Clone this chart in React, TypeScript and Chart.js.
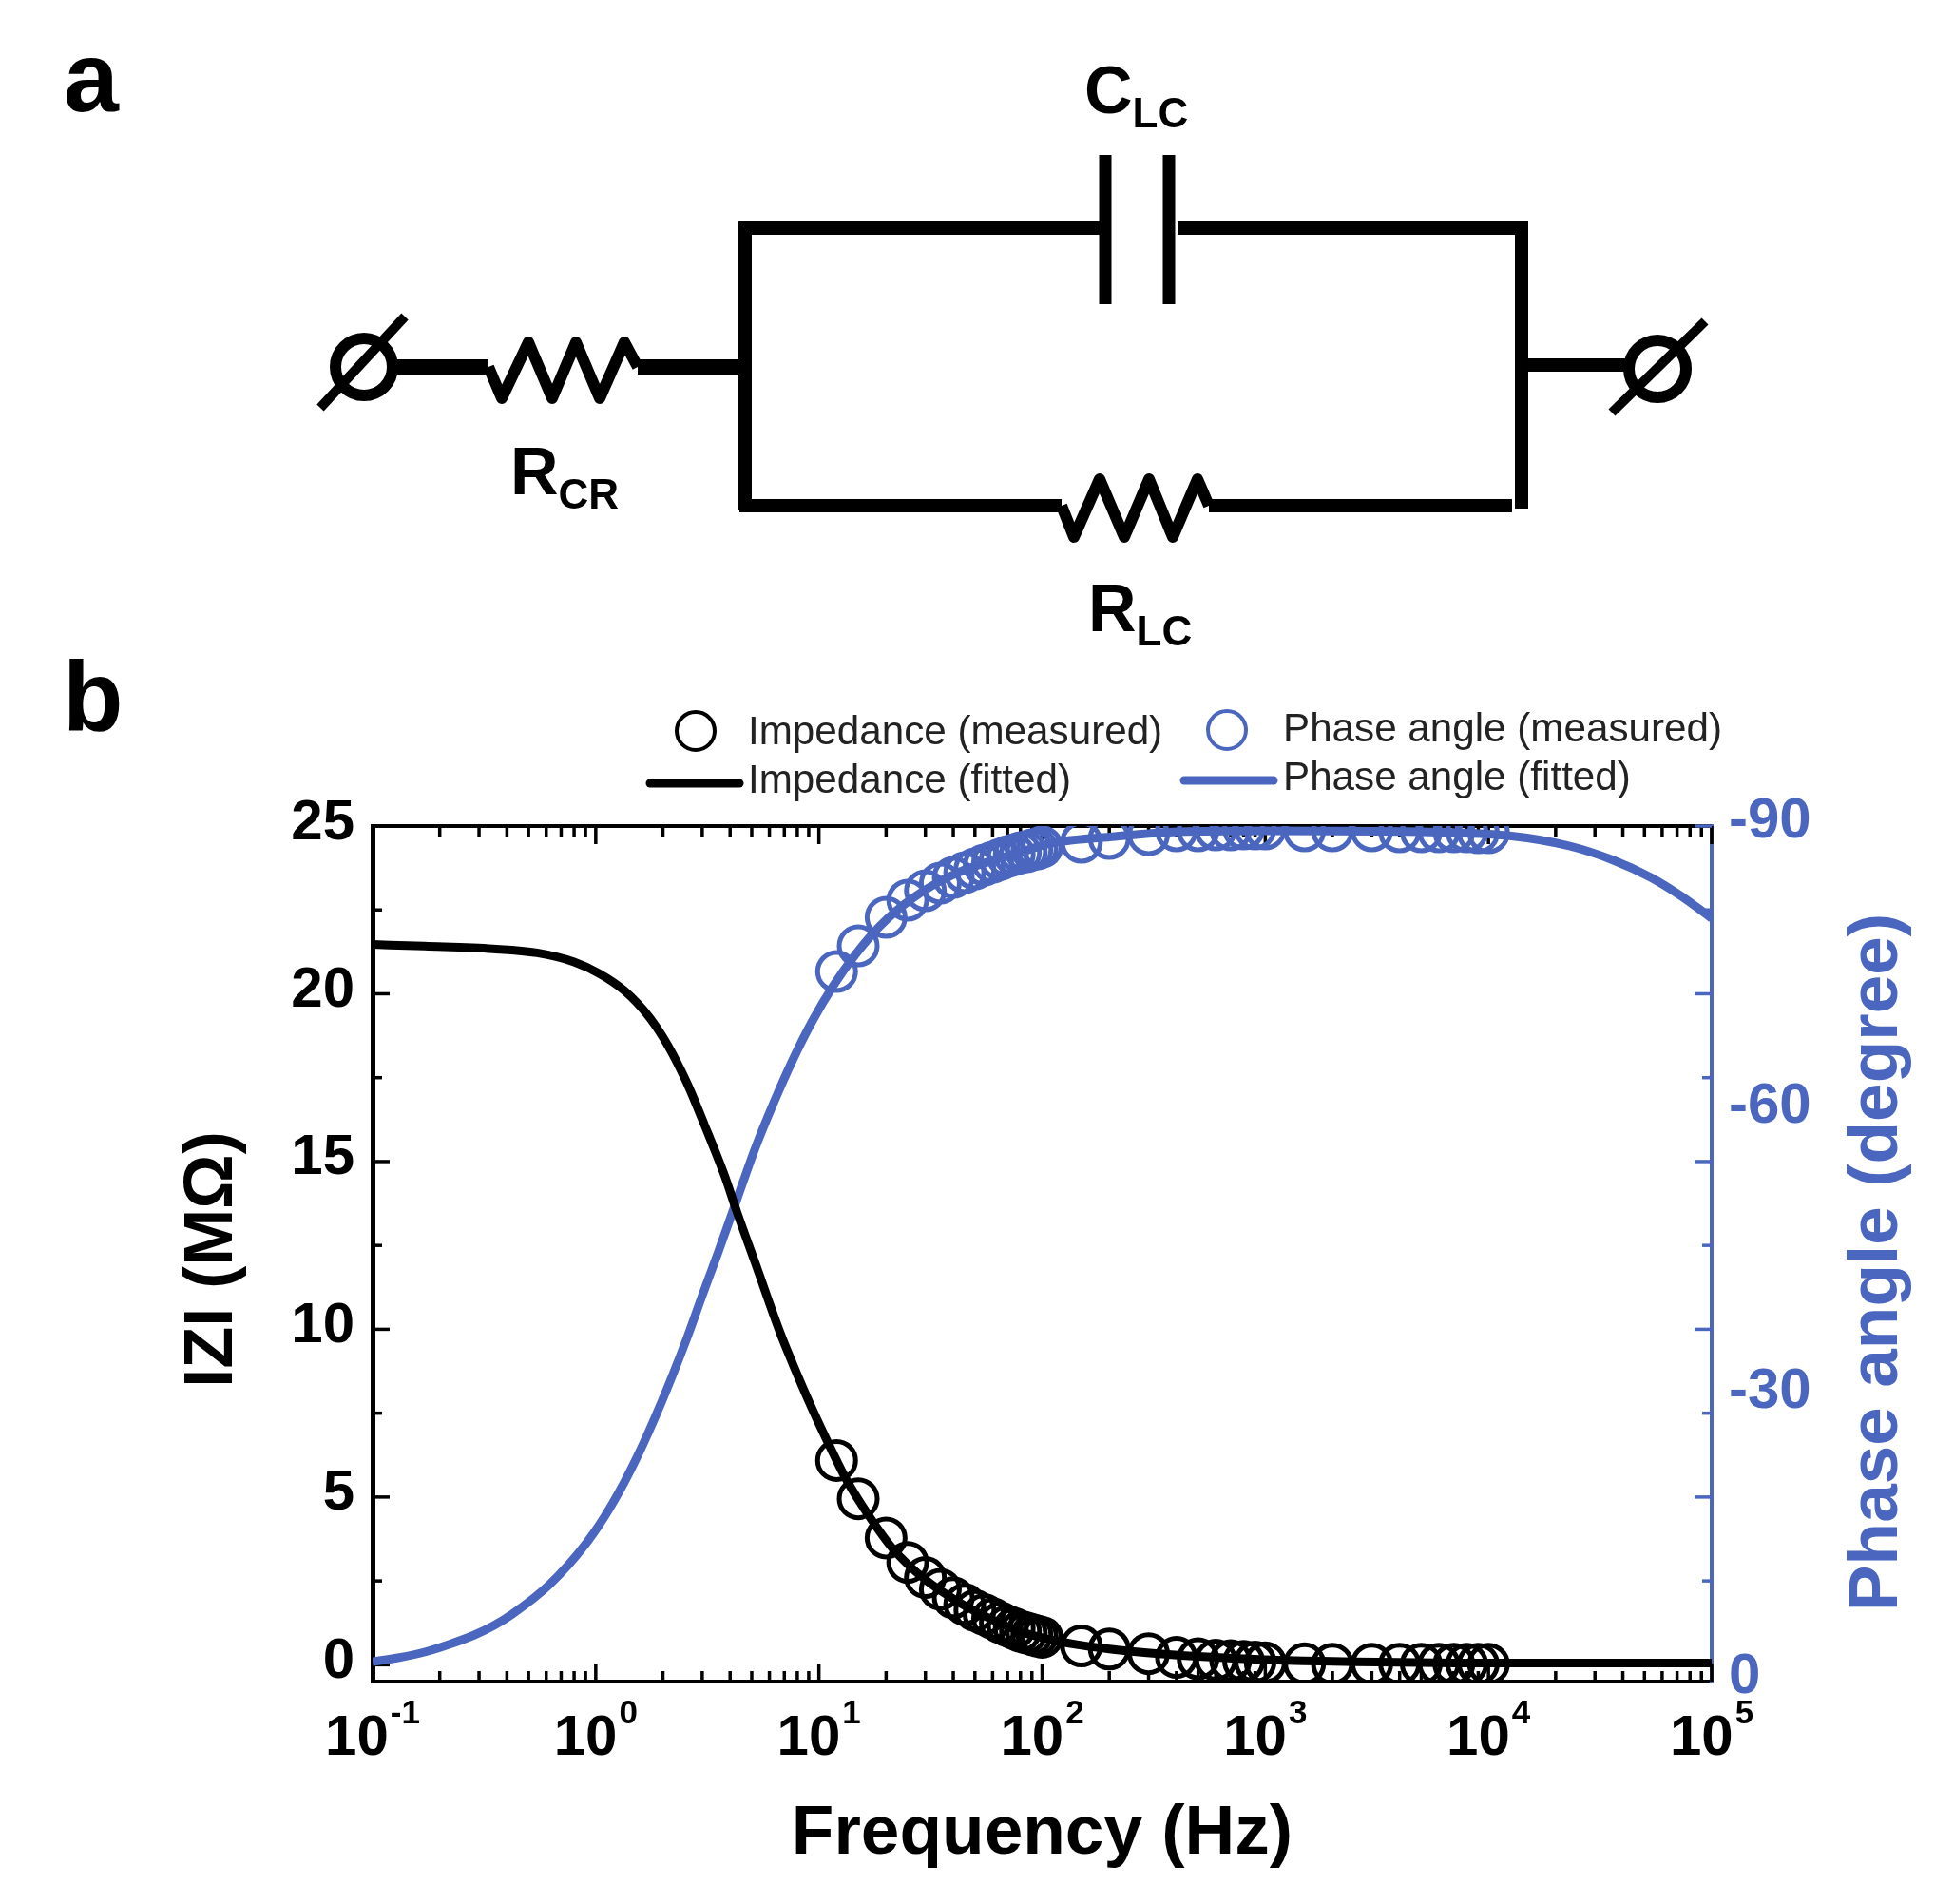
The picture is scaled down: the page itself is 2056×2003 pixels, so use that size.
import { useEffect, useRef } from "react";
import { Chart, registerables, Plugin } from "chart.js";

Chart.register(...registerables);

const BLACK = "#000000";
const BLUE = "#4A66BE";
const FONT = '"Liberation Sans", Arial, sans-serif';

// measured frequencies (Hz)
const measuredFreq = [
  12, 15, 20, 25, 30, 35, 40, 45, 50, 55, 60, 65, 70, 75, 80, 85, 90, 95, 100, 150, 200, 300, 400, 500, 600,
  700, 800, 900, 1000, 1500, 2000, 3000, 4000, 5000, 6000, 7000, 8000, 9000, 10000,
];
const measuredImpedance = [
  6.09, 4.95, 3.78, 3.05, 2.6, 2.25, 2.0, 1.8, 1.62, 1.5, 1.38, 1.26, 1.16, 1.08, 1.0, 0.95, 0.9, 0.86, 0.82,
  0.56, 0.47, 0.33, 0.22, 0.18, 0.14, 0.12, 0.1, 0.08, 0.06, 0.03, 0.02, 0.02, 0.02, 0.02, 0.02, 0.02, 0.02,
  0.02, 0.02,
];
const measuredPhase = [
  -74.7, -77.4, -80.4, -82.2, -83.2, -84, -84.6, -85.1, -85.5, -85.9, -86.2, -86.5, -86.8, -87, -87.2, -87.3,
  -87.5, -87.6, -87.8, -88.3, -88.7, -89.1, -89.5, -89.5, -89.6, -89.6, -89.7, -89.7, -89.7, -89.5, -89.5,
  -89.5, -89.4, -89.4, -89.4, -89.4, -89.4, -89.3, -89.3,
];

const impedanceFitFreq = [
  0.1, 0.171, 0.347, 0.546, 0.8, 1.04, 1.34, 1.74, 2.11, 2.56, 3.09, 3.77, 4.29, 5.2, 6.7, 7.6, 9.3, 11.3, 13.2,
  17.1, 21.5, 29.8, 41.5, 57.5, 79, 101, 143, 200, 295, 500, 1000, 2000, 10000, 100000,
];
const impedanceFit = [
  21.47, 21.42, 21.34, 21.22, 20.95, 20.6, 20.1, 19.3, 18.45, 17.35, 16.05, 14.6, 13.5, 11.95, 9.9, 9.0, 7.65, 6.45,
  5.55, 4.35, 3.45, 2.55, 1.9, 1.4, 1.0, 0.8, 0.6, 0.47, 0.36, 0.25, 0.15, 0.1, 0.05, 0.05,
];

const phaseFitFreq = [
  0.1, 0.13, 0.171, 0.22, 0.286, 0.35, 0.423, 0.62, 0.91, 1.18, 1.53, 1.98, 2.56, 3.0, 3.53, 4.29, 5.2, 6.3, 7.6, 9.3,
  11.6, 14.6, 18.8, 25.9, 41, 79, 110, 212, 407, 1000, 5000, 12160, 23100, 36300, 53300, 73400, 100000,
];
const phaseFit = [
  -2.1, -2.5, -3.1, -3.9, -4.9, -5.9, -7.1, -10.2, -14.6, -18.6, -23.6, -29.5, -36.1, -40.6, -45.1, -50.7, -56.2, -61,
  -65.3, -69.4, -73.2, -76.5, -79.5, -82.3, -85, -87.2, -88.2, -88.9, -89.4, -89.5, -89.4, -89.0, -87.9, -86.4, -84.6,
  -82.6, -80.3,
];

const xDecades = [-1, 0, 1, 2, 3, 4, 5];
const xMinorFactors = [2, 3, 4, 5, 6, 7, 8, 9];
const yMajor = [0, 5, 10, 15, 20, 25];
const yMinor = [2.5, 7.5, 12.5, 17.5, 22.5];
const phaseTicks = [-90, -60, -30, 0];

const pairs = (xs: number[], ys: number[]) => xs.map((x, i) => ({ x, y: ys[i] }));

// tick marks on all four sides and the top frame line, under the data
const frameTicks: Plugin<"scatter"> = {
  id: "frameTicks",
  beforeDatasetsDraw(chart) {
    const { ctx, chartArea: a, scales } = chart;
    const x = scales.x;
    const y = scales.y;
    ctx.save();
    ctx.strokeStyle = BLACK;
    ctx.lineWidth = 4;
    ctx.beginPath();
    ctx.moveTo(a.left, a.top);
    ctx.lineTo(a.right, a.top);
    ctx.stroke();

    const xMark = (v: number, len: number) => {
      const px = x.getPixelForValue(v);
      ctx.beginPath();
      ctx.moveTo(px, a.bottom);
      ctx.lineTo(px, a.bottom - len);
      ctx.moveTo(px, a.top);
      ctx.lineTo(px, a.top + len);
      ctx.stroke();
    };
    ctx.lineWidth = 3.5;
    xDecades.forEach((d) => {
      xMark(10 ** d, 19);
      if (d < 5) xMinorFactors.forEach((m) => xMark(m * 10 ** d, 11));
    });

    const yMark = (v: number, len: number) => {
      const py = y.getPixelForValue(v);
      ctx.strokeStyle = BLACK;
      ctx.beginPath();
      ctx.moveTo(a.left, py);
      ctx.lineTo(a.left + len, py);
      ctx.stroke();
      ctx.strokeStyle = BLUE;
      ctx.beginPath();
      ctx.moveTo(a.right, py);
      ctx.lineTo(a.right - len, py);
      ctx.stroke();
    };
    yMajor.forEach((v) => yMark(v, 18));
    yMinor.forEach((v) => yMark(v, 10));
    ctx.restore();
  },
  // 10 with a raised exponent, the pair centred on its tick
  afterDraw(chart) {
    const { ctx, scales } = chart;
    ctx.save();
    ctx.fillStyle = BLACK;
    ctx.textAlign = "left";
    ctx.textBaseline = "alphabetic";
    xDecades.forEach((d) => {
      const px = scales.x.getPixelForValue(10 ** d);
      const exp = String(d);
      ctx.font = `bold 60px ${FONT}`;
      const w10 = ctx.measureText("10").width;
      ctx.font = `bold 35px ${FONT}`;
      const wExp = ctx.measureText(exp).width;
      const left = px - (w10 + 2 + wExp) / 2;
      ctx.font = `bold 60px ${FONT}`;
      ctx.fillText("10", left, 1846);
      ctx.font = `bold 35px ${FONT}`;
      ctx.fillText(exp, left + w10 + 2, 1813);
    });
    ctx.restore();
  },
};

function Overlay() {
  const wire = { stroke: BLACK, fill: "none" };
  const sub = { fontSize: 44, dy: 15 };
  return (
    <svg
      width={2056}
      height={2003}
      style={{ position: "absolute", left: 0, top: 0, pointerEvents: "none" }}
      fontFamily={FONT}
    >
      <text x={67} y={117} fontSize={104} fontWeight="bold">a</text>
      <text x={66} y={768} fontSize={104} fontWeight="bold">b</text>

      {/* circuit */}
      <g {...wire} strokeWidth={14}>
        <path d="M784 240H1157M1239 240H1607" />
        <path d="M1163 163V320M1230 163V320" strokeWidth={13} />
        <path d="M784 233V537M1601 233V535" />
        <path d="M778 532H1117M1272 532H1591" />
        <path d="M417 386H514M671 386H784" strokeWidth={16} />
        <path d="M1606 384H1711" />
      </g>
      <g {...wire} strokeWidth={12} strokeLinejoin="round">
        <polyline points="1117,532 1130,565 1157,504 1183,565 1209,504 1234,565 1260,504 1272,532" />
        <polyline points="514,386 528,419 556,360 581,419 606,360 631,419 657,360 671,386" />
      </g>
      <g {...wire} strokeWidth={12}>
        <circle cx={383} cy={386} r={30} />
        <path d="M337 429L426 333" strokeWidth={10} />
        <circle cx={1750} cy={388} r={30} transform="translate(-6 0)" />
        <path d="M1698 434L1796 338" strokeWidth={10} transform="translate(-2 0)" />
      </g>
      <text x={1141} y={119} fontSize={70} fontWeight="bold">C<tspan {...sub}>LC</tspan></text>
      <text x={537} y={520} fontSize={70} fontWeight="bold">R<tspan {...sub}>CR</tspan></text>
      <text x={1145} y={664} fontSize={70} fontWeight="bold">R<tspan {...sub}>LC</tspan></text>

      {/* legend */}
      <g fontSize={42.2} fill="#222222">
        <text x={787} y={783}>Impedance (measured)</text>
        <text x={787} y={834}>Impedance (fitted)</text>
        <text x={1350} y={780}>Phase angle (measured)</text>
        <text x={1350} y={831}>Phase angle (fitted)</text>
      </g>
      <circle cx={735} cy={773} r={20} fill="none" stroke={BLACK} strokeWidth={4} transform="translate(-3 -4)" />
      <path d="M684 824H778" stroke={BLACK} strokeWidth={9} strokeLinecap="round" />
      <circle cx={1295} cy={768} r={20} fill="none" stroke={BLUE} strokeWidth={4} transform="translate(-4 0)" />
      <path d="M1246 821H1340" stroke={BLUE} strokeWidth={9} strokeLinecap="round" />

      {/* side axis titles */}
      <text
        transform="translate(244 1325) rotate(-90)"
        textAnchor="middle"
        fontSize={72}
        fontWeight="bold"
      >
        IZI (MΩ)
      </text>
      <text
        transform="translate(1996 1328) rotate(-90)"
        textAnchor="middle"
        fontSize={73}
        fontWeight="bold"
        fill={BLUE}
      >
        Phase angle (degree)
      </text>
    </svg>
  );
}

export default function App() {
  const canvasRef = useRef<HTMLCanvasElement | null>(null);

  useEffect(() => {
    if (!canvasRef.current) return;
    const chart = new Chart(canvasRef.current, {
      type: "scatter",
      data: {
        datasets: [
          {
            label: "Impedance (fitted)",
            data: pairs(impedanceFitFreq, impedanceFit),
            showLine: true,
            borderColor: BLACK,
            borderWidth: 9,
            pointRadius: 0,
            cubicInterpolationMode: "monotone",
            yAxisID: "y",
            clip: 0,
          },
          {
            label: "Impedance (measured)",
            data: pairs(measuredFreq, measuredImpedance),
            borderColor: BLACK,
            backgroundColor: "transparent",
            borderWidth: 5,
            pointRadius: 20,
            yAxisID: "y",
            clip: 0,
          },
          {
            label: "Phase angle (fitted)",
            data: pairs(phaseFitFreq, phaseFit),
            showLine: true,
            borderColor: BLUE,
            borderWidth: 9,
            pointRadius: 0,
            cubicInterpolationMode: "monotone",
            yAxisID: "y2",
            clip: 0,
          },
          {
            label: "Phase angle (measured)",
            data: pairs(measuredFreq, measuredPhase),
            borderColor: BLUE,
            backgroundColor: "transparent",
            borderWidth: 5,
            pointRadius: 20,
            yAxisID: "y2",
            clip: 0,
          },
        ],
      },
      options: {
        animation: false,
        responsive: false,
        devicePixelRatio: 1,
        layout: { padding: { top: 869 } },
        plugins: { legend: { display: false }, tooltip: { enabled: false } },
        scales: {
          x: {
            type: "logarithmic",
            min: 0.1,
            max: 100000,
            grid: { display: false },
            border: { display: true, color: BLACK, width: 4 },
            ticks: { display: false },
            title: {
              display: true,
              text: "Frequency (Hz)",
              color: BLACK,
              font: { family: FONT, size: 73, weight: "bold" },
              padding: { bottom: 29, top: 0 },
            },
            afterFit: (scale) => {
              scale.height = 234;
            },
          },
          y: {
            position: "left",
            min: -0.5,
            max: 25,
            grid: { display: false },
            border: { display: true, color: BLACK, width: 5 },
            afterBuildTicks: (scale) => {
              scale.ticks = yMajor.map((value) => ({ value }));
            },
            ticks: {
              color: BLACK,
              font: { family: FONT, size: 60, weight: "bold" },
              padding: 11,
              labelOffset: -3,
              autoSkip: false,
            },
            afterFit: (scale) => {
              scale.width = 392;
            },
          },
          y2: {
            position: "right",
            min: -90,
            max: 0,
            reverse: true,
            grid: { display: false },
            border: { display: true, color: BLUE, width: 4 },
            afterBuildTicks: (scale) => {
              scale.ticks = phaseTicks.map((value) => ({ value }));
            },
            ticks: {
              color: BLUE,
              font: { family: FONT, size: 60, weight: "bold" },
              padding: 10,
              labelOffset: -5,
              autoSkip: false,
            },
            afterFit: (scale) => {
              scale.width = 255;
            },
          },
        },
      },
      plugins: [frameTicks],
    });
    return () => chart.destroy();
  }, []);

  return (
    <div style={{ position: "absolute", left: 0, top: 0, width: 2056, height: 2003, background: "#fff" }}>
      <canvas ref={canvasRef} width={2056} height={2003} style={{ display: "block" }} />
      <Overlay />
    </div>
  );
}
